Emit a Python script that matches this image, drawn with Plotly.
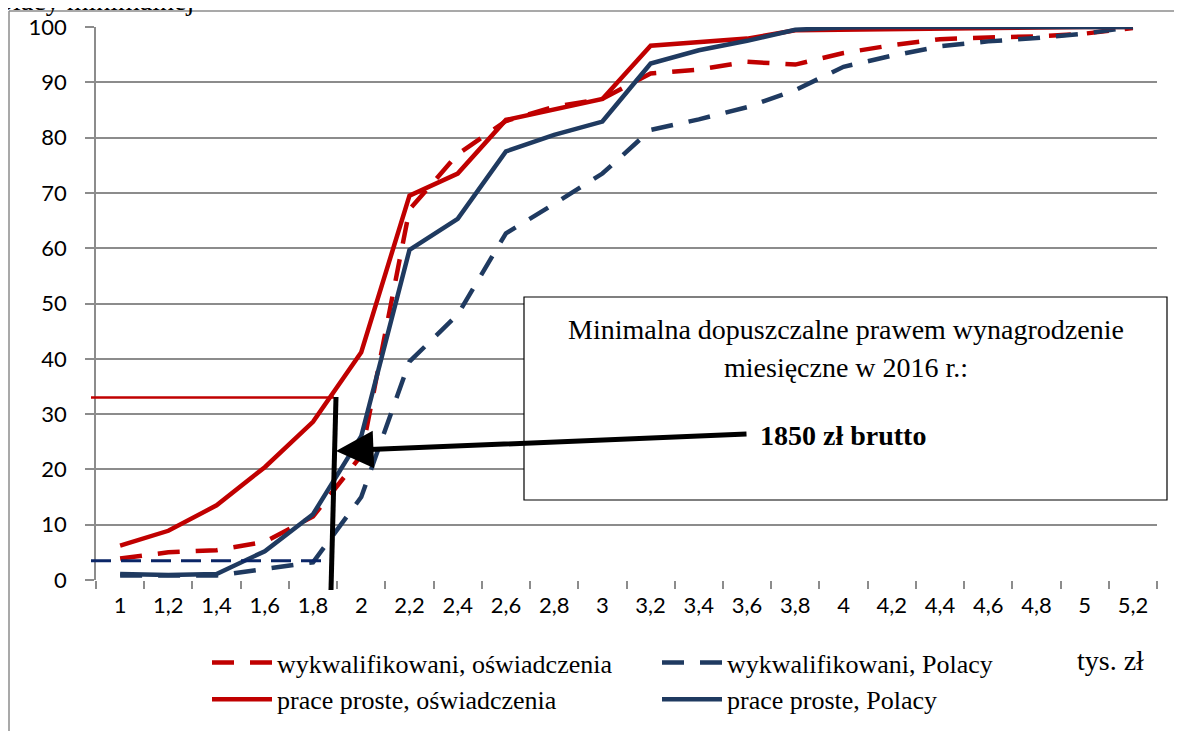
import plotly.graph_objects as go

# ---------------- data ----------------
x_labels = ["1", "1,2", "1,4", "1,6", "1,8", "2", "2,2", "2,4", "2,6", "2,8", "3",
            "3,2", "3,4", "3,6", "3,8", "4", "4,2", "4,4", "4,6", "4,8", "5", "5,2"]

wyk_osw = [3.9, 5.0, 5.4, 6.9, 11.5, 22.5, 67.0, 77.0, 83.0, 85.6, 87.0,
           91.6, 92.3, 93.7, 93.2, 95.3, 96.7, 97.8, 98.1, 98.3, 98.8, 99.8]
wyk_pol = [0.8, 0.9, 0.8, 2.0, 3.2, 15.0, 39.5, 48.0, 62.7, 68.0, 73.5,
           81.4, 83.3, 85.5, 88.6, 92.8, 94.8, 96.5, 97.4, 98.0, 98.8, 100.0]
proste_osw = [6.2, 8.9, 13.5, 20.4, 28.6, 41.2, 69.5, 73.5, 83.2, 85.0, 87.0,
              96.6, 97.3, 97.9, 99.4, 99.5, 99.6, 99.8, 99.9, 99.9, 100.0, 100.0]
proste_pol = [1.1, 0.9, 1.1, 5.2, 11.9, 26.0, 59.7, 65.3, 77.5, 80.5, 82.9,
              93.4, 95.8, 97.5, 99.5, 99.9, 100.0, 100.0, 100.0, 100.0, 100.0, 100.0]

series_names = ["wykwalifikowani, oświadczenia", "wykwalifikowani, Polacy",
                "prace proste, oświadczenia", "prace proste, Polacy"]

y_ticks = [0, 10, 20, 30, 40, 50, 60, 70, 80, 90, 100]

min_wage_share = 33.0      # red horizontal reference level
wyk_pol_ref = 3.5          # navy dashed reference level

RED = "#C00000"
NAVY = "#1F3A60"
DARKNAVY = "#0B2667"

# ---------------- geometry (page pixels; page body has an 8px margin) ----------------
OFF = 8
W, H = 1182 - OFF, 731 - OFF
L, R, T, B = 96, 1157, 27, 580   # plot area in page pixels


def px(xp):
    return (xp - L) / (R - L)


def py(yp):
    return (B - yp) / (B - T)


fig = go.Figure()

styles = [
    (wyk_osw, RED, "22px,16px"),
    (wyk_pol, NAVY, "22px,16px"),
    (proste_osw, RED, "solid"),
    (proste_pol, NAVY, "solid"),
]
for (vals, col, dash), name in zip(styles, series_names):
    fig.add_trace(go.Scatter(
        x=x_labels, y=vals, mode="lines", name=name,
        line=dict(color=col, width=4.5, dash=dash),
        hoverinfo="skip",
    ))

serif = "Liberation Serif, Times New Roman, serif"
sans = "Lato, Open Sans, sans-serif"

shapes = [
    # outer frame (top & left)
    dict(type="line", xref="paper", yref="paper", x0=px(9), x1=px(1190), y0=py(11), y1=py(11),
         line=dict(color="#8C8C8C", width=1.5)),
    dict(type="line", xref="paper", yref="paper", x0=px(9), x1=px(9), y0=py(11), y1=py(740),
         line=dict(color="#8C8C8C", width=1.5)),
    # red horizontal reference
    dict(type="line", xref="paper", yref="y", x0=px(91), x1=px(334), y0=min_wage_share, y1=min_wage_share,
         line=dict(color=RED, width=2.5)),
    # navy dashed reference
    dict(type="line", xref="paper", yref="y", x0=px(91), x1=px(334), y0=wyk_pol_ref, y1=wyk_pol_ref,
         line=dict(color=DARKNAVY, width=3, dash="20px,10px")),
    # black vertical line (1850 zł)
    dict(type="line", xref="paper", yref="paper", x0=px(336), x1=px(331), y0=py(397), y1=py(590),
         line=dict(color="black", width=5)),
    # annotation box
    dict(type="rect", xref="paper", yref="paper", x0=px(524), x1=px(1167), y0=py(500), y1=py(297),
         line=dict(color="black", width=1.2), fillcolor="white", layer="above"),
]

annotations = [
    # cut-off title at top
    dict(text="płacy minimalnej", xref="paper", yref="paper", x=px(-3), y=py(18),
         xanchor="left", yanchor="bottom", showarrow=False,
         font=dict(family=serif, size=28, color="black")),
    dict(text="Minimalna dopuszczalne prawem wynagrodzenie", xref="paper", yref="paper",
         x=px(846), y=py(329), xanchor="center", yanchor="middle", showarrow=False,
         font=dict(family=serif, size=28, color="black")),
    dict(text="miesięczne w 2016 r.:", xref="paper", yref="paper",
         x=px(846), y=py(367), xanchor="center", yanchor="middle", showarrow=False,
         font=dict(family=serif, size=28, color="black")),
    dict(text="<b>1850 zł brutto</b>", xref="paper", yref="paper",
         x=px(758), y=py(435), xanchor="left", yanchor="middle", showarrow=False,
         font=dict(family=serif, size=28, color="black")),
    # arrow
    dict(text="", xref="paper", yref="paper", x=px(336), y=py(451),
         ax=412, ay=-17, axref="pixel", ayref="pixel",
         showarrow=True, arrowhead=2, arrowsize=1.5, arrowwidth=5, arrowcolor="black",
         standoff=0, startstandoff=0),
    dict(text="tys. zł", xref="paper", yref="paper", x=px(1110), y=py(660),
         xanchor="center", yanchor="middle", showarrow=False,
         font=dict(family=serif, size=28, color="black")),
]

fig.update_layout(
    width=W, height=H,
    margin=dict(l=L - OFF, r=W - (R - OFF), t=T - OFF, b=H - (B - OFF), pad=0, autoexpand=False),
    paper_bgcolor="white", plot_bgcolor="white",
    showlegend=True,
    legend=dict(
        orientation="h", x=px(207), y=py(639), xanchor="left", yanchor="top",
        entrywidth=375, entrywidthmode="pixels", itemwidth=60,
        font=dict(family=serif, size=26, color="black"),
        bgcolor="rgba(0,0,0,0)", tracegroupgap=0,
    ),
    xaxis=dict(
        type="category", range=[-0.5, len(x_labels) - 0.5],
        showgrid=False, showline=False, zeroline=False,
        ticks="outside", tickson="boundaries", ticklen=8, tickcolor="#8C8C8C", tickwidth=1.5,
        tickfont=dict(family=sans, size=22, color="black"),
        ticklabelstandoff=10,
        fixedrange=True,
    ),
    yaxis=dict(
        range=[0, 100], tickvals=y_ticks,
        showgrid=True, gridcolor="#8C8C8C", gridwidth=1.5,
        showline=True, linecolor="#8C8C8C", linewidth=1.5,
        zeroline=False,
        ticks="outside", ticklen=9, tickcolor="#8C8C8C", tickwidth=1.5,
        tickfont=dict(family=sans, size=22, color="black"),
        ticklabelstandoff=14,
        fixedrange=True,
    ),
    shapes=shapes,
    annotations=annotations,
)

fig.write_html("out.html")
